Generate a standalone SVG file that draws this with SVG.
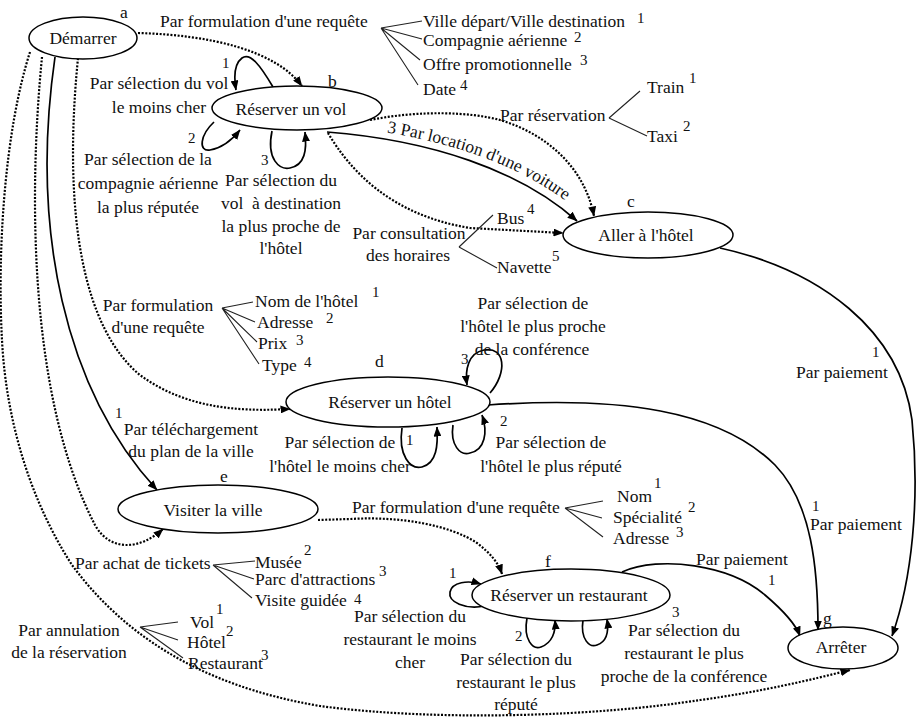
<svg xmlns="http://www.w3.org/2000/svg" width="919" height="724" viewBox="0 0 919 724">
<defs>
<marker id="ah" viewBox="0 0 10 8" refX="9.5" refY="4" markerWidth="10" markerHeight="8" markerUnits="userSpaceOnUse" orient="auto">
<path d="M0,0 L10,4 L0,8 z" fill="#000"/>
</marker>
<style>
.n{fill:#fff;stroke:#000;stroke-width:1.5}
text{font-family:"Liberation Serif","Times New Roman",serif;font-size:17.5px;fill:#111}
.c{text-anchor:middle}
.s{font-size:15px}
.sol{fill:none;stroke:#000;stroke-width:1.7}
.dot{fill:none;stroke:#000;stroke-width:2.2;stroke-dasharray:2 1.6}
.br{fill:none;stroke:#222;stroke-width:1.1}
</style>
</defs>
<rect width="919" height="724" fill="#fff"/>

<g id="connectors">
<path class="dot" d="M138,33 C210,35 275,50 302,86" marker-end="url(#ah)"/>
<path class="dot" d="M78,58 C62,220 85,330 140,375 C190,412 250,411 290,409" marker-end="url(#ah)"/>
<path class="sol" d="M55,57 C30,230 65,390 157,490" marker-end="url(#ah)"/>
<path class="dot" d="M42,57 C28,200 30,400 95,525 C110,552 140,550 163,529" marker-end="url(#ah)"/>
<path class="dot" d="M30,52 C5,130 -3,250 2,340 C6,420 30,500 72,565 C120,630 195,685 320,706 C440,722 600,716 700,700 C760,692 810,680 850,670" marker-end="url(#ah)"/>
<path class="sol" d="M273,87 C260,65 250,52 242,58 C234,64 234,78 236,90" marker-end="url(#ah)"/>
<path class="sol" d="M214,122 C200,135 198,152 210,150 C222,148 232,140 240,130" marker-end="url(#ah)"/>
<path class="sol" d="M272,131 C266,160 280,170 290,168 C305,165 307,150 305,132" marker-end="url(#ah)"/>
<path class="sol" d="M327,132 C430,140 520,170 577,221" marker-end="url(#ah)"/>
<path class="dot" d="M370,120 C420,110 470,112 500,120 C550,135 585,170 594,216" marker-end="url(#ah)"/>
<path class="dot" d="M328,133 C350,170 390,215 470,228 L563,233" marker-end="url(#ah)"/>
<path class="sol" d="M720,248 C820,270 900,330 912,420 C920,500 912,580 892,636" marker-end="url(#ah)"/>
<path class="sol" d="M490,393 C508,372 505,346 484,350 C468,353 465,370 467,385" marker-end="url(#ah)"/>
<path class="sol" d="M453,425 C450,445 460,456 470,453 C485,450 488,432 482,415" marker-end="url(#ah)"/>
<path class="sol" d="M402,428 C398,455 410,470 422,467 C437,463 438,445 437,427" marker-end="url(#ah)"/>
<path class="sol" d="M488,405 C620,396 720,410 775,465 C812,503 818,570 818,630" marker-end="url(#ah)"/>
<path class="dot" d="M318,520 L350,519 C400,516 450,525 477,543 C490,553 498,562 502,574" marker-end="url(#ah)"/>
<path class="sol" d="M485,606 C465,610 448,602 450,592 C452,582 468,580 481,584" marker-end="url(#ah)"/>
<path class="sol" d="M527,618 C523,640 533,650 541,647 C552,643 556,632 555,620" marker-end="url(#ah)"/>
<path class="sol" d="M583,620 C580,640 590,648 597,645 C606,642 609,632 607,619" marker-end="url(#ah)"/>
<path class="sol" d="M622,572 C660,555 730,565 765,595 C785,612 796,625 800,636" marker-end="url(#ah)"/>
<path class="br" d="M381,28 L422,21 M381,28 L422,39 M381,28 L420,60 M381,28 L418,85"/>
<path class="br" d="M609,118 L640,91 M609,118 L647,136"/>
<path class="br" d="M459,247 L493,215 M459,247 L497,268"/>
<path class="br" d="M222,308 L253,302 M222,308 L255,322 M222,308 L257,342 M222,308 L259,364"/>
<path class="br" d="M565,508 L603,501 M565,508 L602,518 M565,508 L603,537"/>
<path class="br" d="M213,565 L255,561 M213,565 L254,579 M213,565 L252,598"/>
<path class="br" d="M140,627 L178,622 M140,627 L178,640 M140,627 L183,658"/>
</g>

<g id="node-a"><ellipse class="n" cx="83" cy="38" rx="54" ry="21"/><text class="c" x="83" y="44">Démarrer</text><text x="120" y="18">a</text></g>
<g id="node-b"><ellipse class="n" cx="297" cy="108" rx="85" ry="22"/><text class="c" x="291" y="115">Réserver un vol</text><text x="328" y="87">b</text></g>
<g id="node-c"><ellipse class="n" cx="648" cy="235" rx="85" ry="23"/><text class="c" x="646" y="241">Aller à l'hôtel</text><text x="627" y="207">c</text></g>
<g id="node-d"><ellipse class="n" cx="388" cy="402" rx="102" ry="25"/><text class="c" x="390" y="408">Réserver un hôtel</text><text x="375" y="367">d</text></g>
<g id="node-e"><ellipse class="n" cx="218" cy="509" rx="100" ry="24"/><text class="c" x="213" y="516">Visiter la ville</text><text x="220" y="482">e</text></g>
<g id="node-f"><ellipse class="n" cx="571" cy="595" rx="99" ry="26"/><text class="c" x="569" y="601">Réserver un restaurant</text><text x="545" y="567">f</text></g>
<g id="node-g"><ellipse class="n" cx="843" cy="648" rx="55" ry="21"/><text class="c" x="841" y="653">Arrêter</text><text x="823" y="624">g</text></g>

<g id="labels">
<text x="160" y="27">Par formulation d'une requête</text>
<text x="423" y="27">Ville départ/Ville destination</text><text class="s" x="637" y="23">1</text>
<text x="423" y="46">Compagnie aérienne</text><text class="s" x="574" y="42">2</text>
<text x="423" y="70">Offre promotionnelle</text><text class="s" x="580" y="65">3</text>
<text x="423" y="95">Date</text><text class="s" x="460" y="90">4</text>

<text class="s" x="222" y="68">1</text>
<text class="s" x="188" y="143">2</text>
<text class="s" x="261" y="165">3</text>
<text class="c" x="159" y="89">Par sélection du vol</text>
<text class="c" x="159" y="113">le moins cher</text>
<text class="c" x="148" y="165">Par sélection de la</text>
<text class="c" x="148" y="189">compagnie aérienne</text>
<text class="c" x="148" y="213">la plus réputée</text>
<text class="c" x="281" y="186">Par sélection du</text>
<text class="c" x="281" y="209" xml:space="preserve">vol  à destination</text>
<text class="c" x="281" y="232">la plus proche de</text>
<text class="c" x="281" y="254">l'hôtel</text>

<path id="tp1" d="M327,126 C430,133 515,160 575,208" fill="none"/>
<text><textPath href="#tp1" startOffset="60">3 Par location d'une voiture</textPath></text>

<text x="500" y="121">Par réservation</text>
<text x="647" y="93">Train</text><text class="s" x="689" y="83">1</text>
<text x="647" y="142">Taxi</text><text class="s" x="683" y="131">2</text>

<text class="c" x="409" y="239">Par consultation</text>
<text class="c" x="408" y="261">des horaires</text>
<text x="497" y="224">Bus</text><text class="s" x="527" y="214">4</text>
<text x="497" y="273">Navette</text><text class="s" x="552" y="261">5</text>

<text class="s" x="872" y="357">1</text>
<text class="c" x="842" y="378">Par paiement</text>

<text class="c" x="158" y="311">Par formulation</text>
<text class="c" x="158" y="333">d'une requête</text>
<text x="255" y="307">Nom de l'hôtel</text><text class="s" x="372" y="297">1</text>
<text x="257" y="328">Adresse</text><text class="s" x="326" y="323">2</text>
<text x="258" y="349">Prix</text><text class="s" x="296" y="345">3</text>
<text x="262" y="371">Type</text><text class="s" x="304" y="367">4</text>

<text class="s" x="115" y="418">1</text>
<text class="c" x="191" y="435">Par téléchargement</text>
<text class="c" x="191" y="457">du plan de la ville</text>

<text class="c" x="533" y="309">Par sélection de</text>
<text class="c" x="533" y="332">l'hôtel le plus proche</text>
<text class="c" x="532" y="355">de la conférence</text>
<text class="s" x="461" y="364">3</text>
<text class="s" x="500" y="426">2</text>
<text class="s" x="406" y="445">1</text>
<text class="c" x="340" y="448">Par sélection de</text>
<text class="c" x="340" y="472">l'hôtel le moins cher</text>
<text class="c" x="551" y="448">Par sélection de</text>
<text class="c" x="551" y="472">l'hôtel le plus réputé</text>

<text class="s" x="812" y="511">1</text>
<text class="c" x="856" y="530">Par paiement</text>

<text x="352" y="513">Par formulation d'une requête</text>
<text x="617" y="502">Nom</text><text class="s" x="654" y="488">1</text>
<text x="613" y="523">Spécialité</text><text class="s" x="688" y="512">2</text>
<text x="613" y="544">Adresse</text><text class="s" x="676" y="537">3</text>

<text x="75" y="569">Par achat de tickets</text>
<text x="255" y="568">Musée</text><text class="s" x="304" y="555">2</text>
<text x="255" y="585">Parc d'attractions</text><text class="s" x="379" y="576">3</text>
<text x="255" y="606">Visite guidée</text><text class="s" x="354" y="604">4</text>

<text class="c" x="69" y="636">Par annulation</text>
<text class="c" x="69" y="658">de la réservation</text>
<text x="190" y="628">Vol</text><text class="s" x="216" y="614">1</text>
<text x="187" y="648">Hôtel</text><text class="s" x="226" y="636">2</text>
<text x="188" y="669">Restaurant</text><text class="s" x="261" y="660">3</text>

<text class="s" x="449" y="578">1</text>
<text class="s" x="515" y="641">2</text>
<text class="s" x="672" y="617">3</text>
<text class="c" x="410" y="622">Par sélection du</text>
<text class="c" x="410" y="645">restaurant le moins</text>
<text class="c" x="410" y="668">cher</text>
<text class="c" x="516" y="665">Par sélection du</text>
<text class="c" x="516" y="688">restaurant le plus</text>
<text class="c" x="516" y="710">réputé</text>
<text class="c" x="684" y="636">Par sélection du</text>
<text class="c" x="684" y="659">restaurant le plus</text>
<text class="c" x="684" y="682">proche de la conférence</text>

<text class="c" x="742" y="565">Par paiement</text>
<text class="s" x="768" y="585">1</text>
</g>
</svg>
